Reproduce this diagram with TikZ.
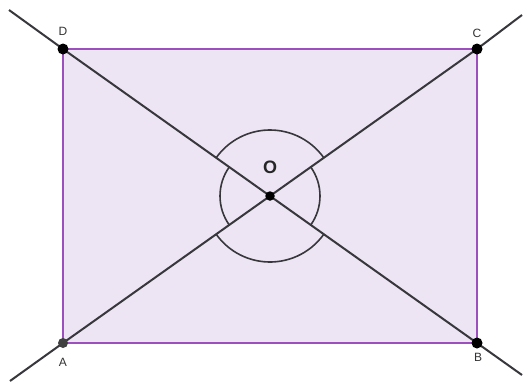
\documentclass[tikz,border=0pt]{standalone}
\usepackage{fontspec}
\setmainfont{Liberation Sans}
\definecolor{recfill}{RGB}{237,229,244}
\definecolor{recedge}{RGB}{156,80,190}
\definecolor{lncol}{RGB}{55,55,60}
\begin{document}
\begin{tikzpicture}[x=1pt,y=-1pt,
  ln/.style={draw=lncol,line width=2pt},
  pt/.style={circle,fill=black,inner sep=0pt,minimum size=11pt},
  lbl/.style={font=\fontsize{12}{14}\selectfont,text=black!80,inner sep=0pt},
  arcmark/.style={draw=lncol,line width=1.6pt}]
\useasboundingbox[fill=white] (0,0) rectangle (523,383);
\coordinate (D) at (63,49);
\coordinate (C) at (477,49);
\coordinate (A) at (63,343);
\coordinate (B) at (477,343);
\coordinate (O) at (270,196);
\coordinate (e1) at (9,10);
\coordinate (e2) at (522,375);
\coordinate (e3) at (522,15);
\coordinate (e4) at (10,381);
\fill[recfill] (A) rectangle (C);
\draw[draw=recedge,line width=1.8pt] (A) rectangle (C);
\draw[ln] (e1) -- (D) -- (O) -- (B) -- (e2);
\draw[ln] (e4) -- (A) -- (O) -- (C) -- (e3);
% angle marks (math angles; y axis flipped)
\draw[arcmark] ([shift={(-35.4:66)}]O) arc[start angle=-35.4,end angle=-144.6,radius=66];
\draw[arcmark] ([shift={(35.4:66)}]O) arc[start angle=35.4,end angle=144.6,radius=66];
\draw[arcmark] ([shift={(-144.6:50)}]O) arc[start angle=-144.6,end angle=-215.4,radius=50];
\draw[arcmark] ([shift={(-35.4:50)}]O) arc[start angle=-35.4,end angle=35.4,radius=50];
\node[pt] (pD) at (D) {};
\node[pt] (pC) at (C) {};
\node[pt,fill=black!75,minimum size=10pt] (pA) at (A) {};
\node[pt] (pB) at (B) {};
\node[pt,minimum size=9.5pt] (pO) at (O) {};
\node[lbl] (lD) at (63,31) {D};
\node[lbl] (lC) at (477,33) {C};
\node[lbl] (lA) at (63,362) {A};
\node[lbl] (lB) at (478,357) {B};
\node[lbl,font=\bfseries\fontsize{18}{21}\selectfont,text=black!85] (lO) at (270,167) {O};
\end{tikzpicture}
\end{document}
